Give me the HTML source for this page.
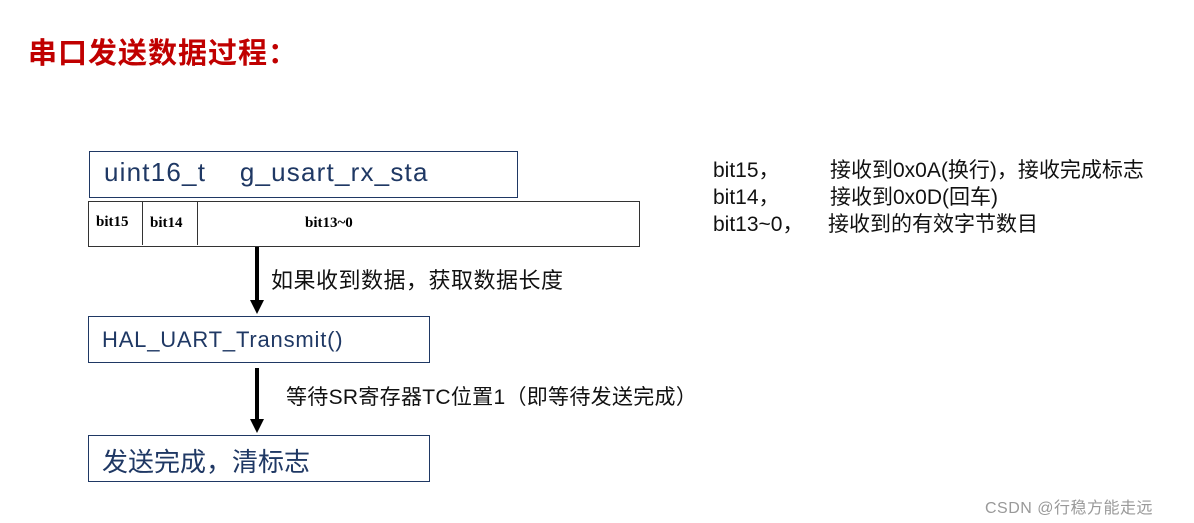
<!DOCTYPE html>
<html><head><meta charset="utf-8"><style>
body{margin:0;width:1194px;height:523px;background:#fff;position:relative;overflow:hidden;font-family:"Liberation Sans","Noto Sans CJK SC",sans-serif}
.a{position:absolute;white-space:nowrap}
.box{position:absolute;border:1.5px solid #1f3864;box-sizing:border-box;color:#1f3864}
</style></head><body>
<div class="a" style="left:28px;top:30px;font-size:29px;font-weight:bold;color:#c00000;letter-spacing:1px">串口发送数据过程：</div>
<div class="box" style="left:89px;top:151px;width:429px;height:47px;font-size:26px;padding:5px 0 0 14px;letter-spacing:1.2px">uint16_t&nbsp;&nbsp;&nbsp;&nbsp;g_usart_rx_sta</div>
<div style="position:absolute;left:88px;top:201px;width:552px;height:46px;border:1.5px solid #333;box-sizing:border-box;font-family:'Liberation Serif',serif;font-weight:bold;font-size:15px">
<div class="a" style="left:0;top:0;width:54px;height:43px;border-right:1.5px solid #333;padding:12px 0 0 7px;box-sizing:border-box">bit15</div>
<div class="a" style="left:54px;top:0;width:55px;height:43px;border-right:1.5px solid #333;padding:13px 0 0 7px;box-sizing:border-box">bit14</div>
<div class="a" style="left:216px;top:13px">bit13~0</div>
</div>
<div class="a" style="left:255px;top:247px;width:4px;height:56px;background:#000"></div>
<div class="a" style="left:250px;top:300px;width:0;height:0;border-left:7px solid transparent;border-right:7px solid transparent;border-top:14px solid #000"></div>
<div class="a" style="left:271px;top:263px;font-size:22px;color:#111;letter-spacing:0.5px">如果收到数据，获取数据长度</div>
<div class="box" style="left:88px;top:316px;width:342px;height:47px;font-size:22px;padding:10px 0 0 13px;letter-spacing:0.8px">HAL_UART_Transmit()</div>
<div class="a" style="left:255px;top:368px;width:4px;height:54px;background:#000"></div>
<div class="a" style="left:250px;top:419px;width:0;height:0;border-left:7px solid transparent;border-right:7px solid transparent;border-top:14px solid #000"></div>
<div class="a" style="left:286px;top:381px;font-size:21px;color:#111;letter-spacing:0.3px">等待SR寄存器TC位置1（即等待发送完成）</div>
<div class="box" style="left:88px;top:435px;width:342px;height:47px;font-size:26px;padding:6px 0 0 13px">发送完成，清标志</div>
<div class="a" style="left:713px;top:157px;font-size:21px;line-height:27px;color:#111">
<div>bit15，<span style="position:absolute;left:117px">接收到0x0A(换行)，接收完成标志</span></div>
<div>bit14，<span style="position:absolute;left:117px">接收到0x0D(回车)</span></div>
<div>bit13~0，<span style="position:absolute;left:115px">接收到的有效字节数目</span></div>
</div>
<div class="a" style="left:985px;top:494px;font-size:16px;color:#999;letter-spacing:0.5px">CSDN @行稳方能走远</div>
</body></html>
